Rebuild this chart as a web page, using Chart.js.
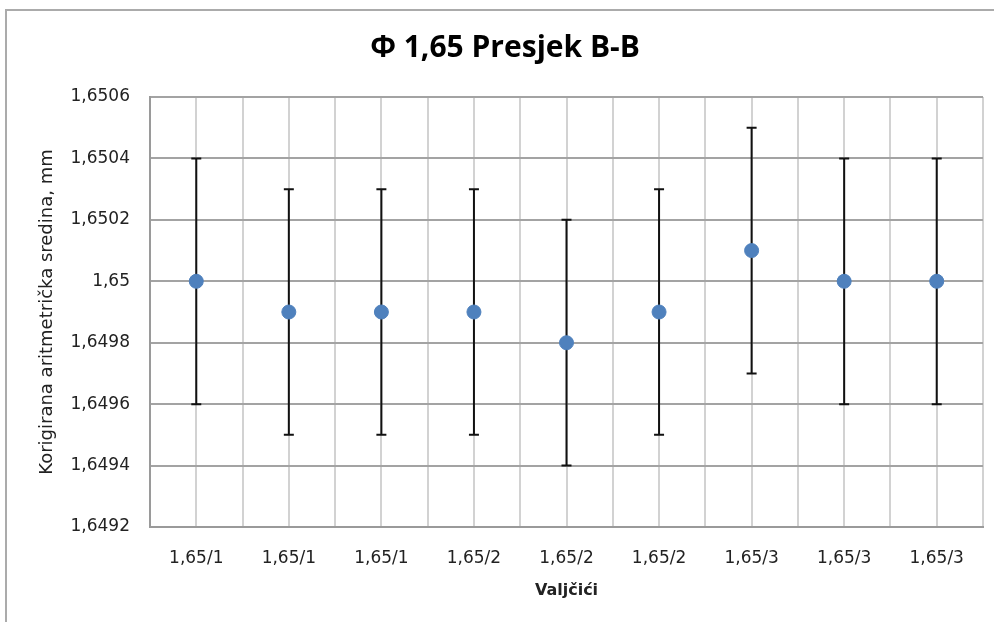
<!DOCTYPE html>
<html>
<head>
<meta charset="utf-8">
<script src="https://cdn.jsdelivr.net/npm/chart.js@4.4.1/dist/chart.umd.min.js"></script>
<style>
    html, body { margin: 0; padding: 0; background: #fff; }
    #wrap { width: 994px; height: 622px; position: relative; }
</style>
</head>
<body>
<div id="wrap"><canvas id="chart" width="994" height="622"></canvas></div>
<script>
// Chart data
const categories = ['1,65/1', '1,65/1', '1,65/1', '1,65/2', '1,65/2', '1,65/2', '1,65/3', '1,65/3', '1,65/3'];
const means = [1.65, 1.6499, 1.6499, 1.6499, 1.6498, 1.6499, 1.6501, 1.65, 1.65];
const errors = [0.0004, 0.0004, 0.0004, 0.0004, 0.0004, 0.0004, 0.0004, 0.0004, 0.0004];
const yTicks = [1.6492, 1.6494, 1.6496, 1.6498, 1.65, 1.6502, 1.6504, 1.6506];

function formatNum(v) {
    return String(parseFloat(v.toFixed(4))).replace('.', ',');
}

// Outer frame, like the Excel chart area border
const framePlugin = {
    id: 'frame',
    beforeDraw(chart) {
        const ctx = chart.ctx;
        ctx.save();
        ctx.strokeStyle = '#ababab';
        ctx.lineWidth = 2;
        ctx.beginPath();
        ctx.moveTo(6, 622);
        ctx.lineTo(6, 10);
        ctx.lineTo(994, 10);
        ctx.stroke();
        ctx.restore();
    }
};

// Vertical error bars with caps
const errorBarPlugin = {
    id: 'errorBars',
    beforeDatasetsDraw(chart) {
        const ctx = chart.ctx;
        const xs = chart.scales.x;
        const ys = chart.scales.y;
        ctx.save();
        ctx.strokeStyle = '#111';
        ctx.lineWidth = 2;
        means.forEach((m, i) => {
            const x = xs.getPixelForValue(i + 1);
            const top = ys.getPixelForValue(m + errors[i]);
            const bot = ys.getPixelForValue(m - errors[i]);
            ctx.beginPath();
            ctx.moveTo(x, top);
            ctx.lineTo(x, bot);
            ctx.moveTo(x - 5, top);
            ctx.lineTo(x + 5, top);
            ctx.moveTo(x - 5, bot);
            ctx.lineTo(x + 5, bot);
            ctx.stroke();
        });
        ctx.restore();
    }
};

const ctx = document.getElementById('chart').getContext('2d');
new Chart(ctx, {
    type: 'scatter',
    data: {
        datasets: [{
            label: 'Korigirana aritmetrička sredina',
            data: means.map((m, i) => ({ x: i + 1, y: m })),
            backgroundColor: '#4f81bd',
            borderColor: '#4f81bd',
            pointRadius: 7,
            pointHoverRadius: 7
        }]
    },
    options: {
        responsive: false,
        animation: false,
        layout: { padding: { left: 27, right: 11, top: 0, bottom: 0 } },
        plugins: {
            legend: { display: false },
            tooltip: { enabled: false },
            title: {
                display: true,
                text: 'Φ 1,65 Presjek B-B',
                color: '#000',
                font: { family: 'Open Sans', size: 30, weight: 'bold', lineHeight: 1.2 },
                padding: { top: 30, bottom: 31 }
            }
        },
        scales: {
            x: {
                type: 'linear',
                min: 0.5,
                max: 9.5,
                afterFit(scale) {
                    scale.height = 95;
                    scale.paddingLeft = 0;
                    scale.paddingRight = 0;
                },
                afterBuildTicks(scale) {
                    const t = [];
                    for (let v = 0.5; v <= 9.5; v += 0.5) t.push({ value: v });
                    scale.ticks = t;
                },
                ticks: {
                    autoSkip: false,
                    maxRotation: 0,
                    padding: 21,
                    color: '#222',
                    font: { family: 'DejaVu Sans', size: 17 },
                    callback: (v) => Number.isInteger(v) ? categories[v - 1] : ''
                },
                grid: { color: '#d2d2d2', lineWidth: 2, drawTicks: false },
                border: { color: '#9a9a9a', width: 2 },
                title: {
                    display: true,
                    text: 'Valjčići',
                    color: '#222',
                    font: { family: 'DejaVu Sans', size: 16, weight: 'bold', lineHeight: 1.2 },
                    padding: { top: 0, bottom: 22 }
                }
            },
            y: {
                min: 1.6492,
                max: 1.6506,
                afterFit(scale) { scale.width = 123; },
                afterBuildTicks(scale) {
                    scale.ticks = yTicks.map(v => ({ value: v }));
                },
                ticks: {
                    padding: 20,
                    color: '#222',
                    font: { family: 'DejaVu Sans', size: 17 },
                    callback: (v) => formatNum(v)
                },
                grid: { color: '#a3a3a3', lineWidth: 2, drawTicks: false },
                border: { color: '#9a9a9a', width: 2 },
                title: {
                    display: true,
                    text: 'Korigirana aritmetrička sredina, mm',
                    color: '#222',
                    font: { family: 'DejaVu Sans', size: 18, lineHeight: 1.2 },
                    padding: { top: 10, bottom: 0 }
                }
            }
        }
    },
    plugins: [framePlugin, errorBarPlugin]
});
</script>
</body>
</html>
